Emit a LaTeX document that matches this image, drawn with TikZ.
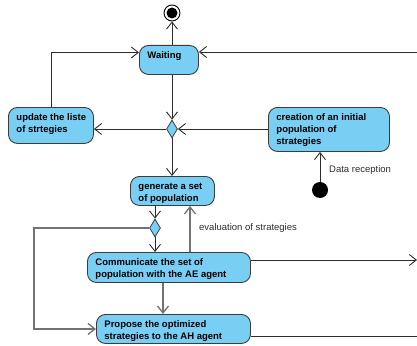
\documentclass[tikz,border=0pt]{standalone}
\usepackage{fontspec}
\setmainfont{Liberation Sans}
\usetikzlibrary{arrows.meta,shapes.geometric}
\definecolor{actfill}{RGB}{121,206,244}
\definecolor{actline}{RGB}{60,60,60}
\definecolor{darkln}{RGB}{45,45,45}
\definecolor{grayln}{RGB}{115,115,115}
\newcommand\actbox[3]{\parbox[c][#2pt][t]{#1pt}{\vspace*{4.6pt}\hspace*{8pt}\begin{tabular}[t]{@{}l@{}}#3\end{tabular}}}
\tikzset{
  act/.style={draw=actline, fill=actfill, rounded corners=9pt, anchor=north west, inner sep=0pt, line width=0.9pt, font=\fontsize{9.5}{12}\selectfont\bfseries},
  dec/.style={diamond, draw=actline, fill=actfill, inner sep=0pt, minimum width=11pt, minimum height=18pt, line width=0.8pt},
  arr/.style={draw=darkln, line width=0.9pt, -{Straight Barb[length=7pt,width=11pt]}},
  garr/.style={draw=grayln, line width=1.3pt, -{Straight Barb[length=7pt,width=11pt]}},
  ln/.style={draw=darkln, line width=0.9pt},
  gln/.style={draw=grayln, line width=1.3pt, -{Straight Barb[length=7pt,width=11pt]}},
  lbl/.style={font=\fontsize{9.5}{12}\selectfont, text=darkln, inner sep=0pt, anchor=base west}
}
\begin{document}
\begin{tikzpicture}[x=1pt,y=-1pt]
\useasboundingbox (0,0) rectangle (417,345);
% final node
\node[circle, draw=black, line width=0.9pt, fill=white, minimum size=16pt, inner sep=0pt] (final) at (172,13) {};
\fill[black] (final.center) circle (5.5pt);
% initial node
\node[circle, fill=black, minimum size=16pt, inner sep=0pt] (init) at (320,190) {};
% activities
\node[act] (wait) at (139,45) {\actbox{59}{29}{Waiting}};
\node[act] (upd) at (8,107) {\actbox{85}{36}{update the liste\\of strtegies}};
\node[act] (cr) at (268,107) {\actbox{121}{44}{creation of an initial\\population of\\strategies}};
\node[act] (gen) at (130,176) {\actbox{84}{29}{generate a set\\of population}};
\node[act] (comm) at (87,252) {\actbox{163}{30}{Communicate the set of\\population with the AE agent}};
\node[act] (prop) at (96,314) {\actbox{154}{29}{Propose the optimized\\strategies to the AH agent}};
% decisions
\node[dec] (d1) at (172,129) {};
\node[dec] (d2) at (155,228) {};
% helper coordinates
\coordinate (rin) at (417,52);
\coordinate (ev) at (190,0);
\coordinate (lft) at (34,0);
\coordinate (cp) at (163,0);
\coordinate (cout) at (417,260);
\coordinate (pout) at (417,336);
% labels
\node[lbl] (datalbl) at (329,172.5) {Data reception};
\node[lbl] (evallbl) at (199,230.5) {evaluation of strategies};
% connectors
\draw[arr] (final |- wait.north) -- (final.south);
\draw[arr] (upd.north) |- ([yshift=7.5pt]wait.west);
\draw[arr] (rin) -- (rin -| wait.east);
\draw[arr] (d1.north |- wait.south) -- (d1.north);
\draw[arr] (d1.west) -- (d1.west -| upd.east);
\draw[arr] (cr.west |- d1.east) -- (d1.east);
\draw[arr] (init.north) -- (init |- cr.south);
\draw[arr] (d1.south) -- (d1.south |- gen.north);
\draw[arr] (d2.north |- gen.south) -- (d2.north);
\draw[garr] (ev |- comm.north) -- (ev |- gen.south);
\draw[arr] (d2.south) -- (d2.south |- comm.north);
\draw[gln] (d2.west) -- (lft |- d2.west) |- (prop.west);
\draw[arr] (cout -| comm.east) -- (cout);
\draw[garr] (cp |- comm.south) -- (cp |- prop.north);
\draw[ln] (pout -| prop.east) -- (pout);
\end{tikzpicture}
\end{document}
